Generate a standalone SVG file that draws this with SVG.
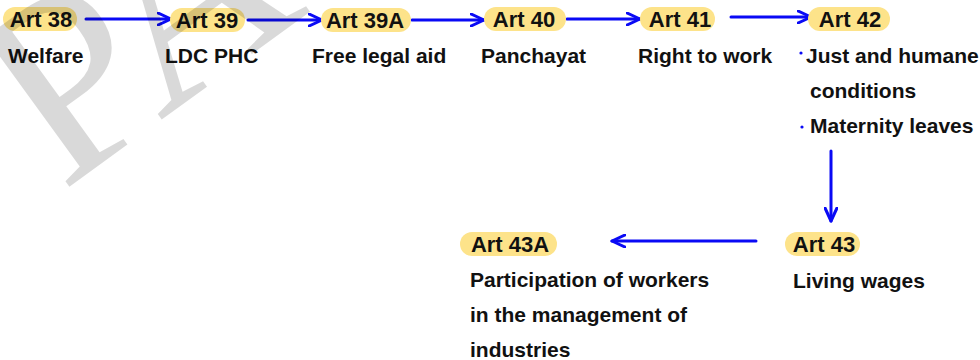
<svg xmlns="http://www.w3.org/2000/svg" width="980" height="360" viewBox="0 0 980 360">
<defs>
<style>
.pill{fill:#fde38a}
.lbl{font-family:"Liberation Sans",Arial,sans-serif;font-weight:bold;font-size:22px;fill:#111;text-anchor:middle}
.txt{font-family:"Liberation Sans",Arial,sans-serif;font-weight:bold;font-size:21px;fill:#111}
.edge{stroke:#0a0af5;stroke-width:3;fill:none;stroke-linecap:round;marker-end:url(#ah)}
.dot{fill:#0a0af5}
.wm{font-family:"Liberation Serif","Times New Roman",serif;font-size:260px;fill:#000;fill-opacity:0.15}
</style>
<marker id="ah" viewBox="0 0 16 14" refX="14" refY="7" markerWidth="16" markerHeight="14" markerUnits="userSpaceOnUse" orient="auto">
<path d="M1,1 L14,7 L1,13" fill="none" stroke="#0a0af5" stroke-width="3" stroke-linecap="round" stroke-linejoin="round"/>
</marker>
</defs>
<rect width="980" height="360" fill="#fff"/>

<g id="connectors">
<line class="edge" x1="86" y1="19" x2="171" y2="19"/>
<line class="edge" x1="248" y1="20" x2="322" y2="20"/>
<line class="edge" x1="412" y1="20" x2="484" y2="20"/>
<line class="edge" x1="567" y1="19" x2="640" y2="19"/>
<line class="edge" x1="731" y1="17" x2="811" y2="17"/>
<line class="edge" x1="831" y1="151" x2="831" y2="221"/>
<line class="edge" x1="756" y1="241" x2="612" y2="241"/>
</g>

<g id="art38">
<rect class="pill" x="3" y="7" width="74" height="24" rx="12"/>
<text class="lbl" x="41" y="27">Art 38</text>
<text class="txt" x="8" y="63">Welfare</text>
</g>
<g id="art39">
<rect class="pill" x="170" y="8" width="75" height="24" rx="12"/>
<text class="lbl" x="207" y="28">Art 39</text>
<text class="txt" x="165" y="63">LDC PHC</text>
</g>
<g id="art39a">
<rect class="pill" x="321" y="8" width="90" height="24" rx="12"/>
<text class="lbl" x="365" y="28">Art 39A</text>
<text class="txt" x="312" y="63">Free legal aid</text>
</g>
<g id="art40">
<rect class="pill" x="484" y="7" width="82" height="24" rx="12"/>
<text class="lbl" x="524" y="27">Art 40</text>
<text class="txt" x="481" y="63">Panchayat</text>
</g>
<g id="art41">
<rect class="pill" x="640" y="7" width="75" height="24" rx="12"/>
<text class="lbl" x="680" y="27">Art 41</text>
<text class="txt" x="638" y="63">Right to work</text>
</g>
<g id="art42">
<rect class="pill" x="808" y="7" width="82" height="24" rx="12"/>
<text class="lbl" x="850" y="27">Art 42</text>
<circle class="dot" cx="801" cy="53" r="1.6"/>
<text class="txt" x="806" y="63">Just and humane</text>
<text class="txt" x="810" y="98">conditions</text>
<circle class="dot" cx="802" cy="127" r="1.6"/>
<text class="txt" x="810" y="133">Maternity leaves</text>
</g>
<g id="art43">
<rect class="pill" x="785" y="232" width="75" height="24" rx="12"/>
<text class="lbl" x="824" y="252">Art 43</text>
<text class="txt" x="793" y="288">Living wages</text>
</g>
<g id="art43a">
<rect class="pill" x="460" y="232" width="97" height="24" rx="12"/>
<text class="lbl" x="510" y="252">Art 43A</text>
<text class="txt" x="470" y="287">Participation of workers</text>
<text class="txt" x="470" y="322">in the management of</text>
<text class="txt" x="470" y="357">industries</text>
</g>

<text class="wm" transform="translate(62,192) rotate(-36)">PA</text>
</svg>
